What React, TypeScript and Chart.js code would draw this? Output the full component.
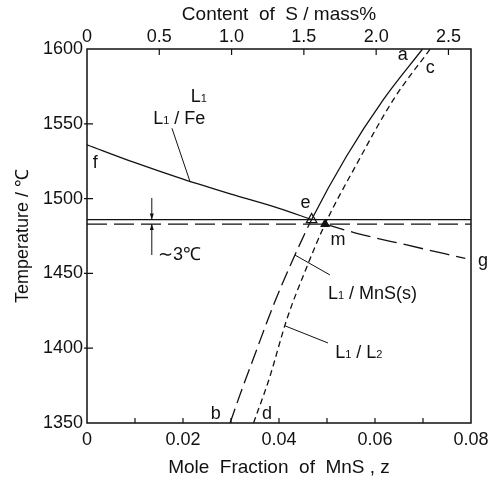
import React, { useEffect, useRef } from "react";
import { Chart, registerables } from "chart.js";
Chart.register(...registerables);

// ---- axis ticks ----
const zTicks = [0, 0.02, 0.04, 0.06, 0.08];
const zTickLabels = ["0", "0.02", "0.04", "0.06", "0.08"];
const zInnerTicks = [0.01, 0.02, 0.03, 0.04, 0.05, 0.06, 0.07];
const sTicks = [0, 0.5, 1.0, 1.5, 2.0, 2.5];
const sTickLabels = ["0", "0.5", "1.0", "1.5", "2.0", "2.5"];
const sInnerTicks = [0.5, 1.0, 1.5, 2.0, 2.5];
const sMax = 2.656;
const tTicks = [1350, 1400, 1450, 1500, 1550, 1600];
const tInnerTicks = [1400, 1450, 1500, 1550];

// ---- curves (z = mole fraction MnS, T = temperature) ----
const feLiqZ = [0, 0.01, 0.02, 0.03, 0.04, 0.0468];
const feLiqT = [1536, 1524, 1513, 1503, 1493.5, 1486];
// L1/MnS(s) liquidus: b -> e (metastable, dashed) -> a (stable, solid)
const mnsLiqZ = [0.0298, 0.032, 0.035, 0.039, 0.043, 0.0468, 0.054, 0.0617, 0.0699];
const mnsLiqT = [1350, 1370, 1396, 1430, 1460, 1486, 1528, 1566, 1600];
const l1l2Z = [0.0347, 0.038, 0.0416, 0.0455, 0.0496, 0.056, 0.0638, 0.0715];
const l1l2T = [1350, 1380, 1419, 1452, 1483, 1522, 1566, 1600];
const mgZ = [0.0496, 0.056, 0.0666, 0.0788];
const mgT = [1483, 1477, 1469, 1460];
const eutecticT = 1486;
const monotecticT = 1483;
const pointEZ = [0.0468];
const pointET = [1486];
const pointMZ = [0.0496];
const pointMT = [1483];

// ---- annotations ----
const labelTexts = ["a", "c", "b", "d", "e", "f", "g", "m", "L_1", "L_1 / Fe", "L_1 / MnS(s)", "L_1 / L_2", "∼3℃"];
const labelZ = [0.0658, 0.0715, 0.0268, 0.0375, 0.0455, 0.0017, 0.0825, 0.0523, 0.0233, 0.0138, 0.0502, 0.0517, 0.0148];
const labelT = [1597, 1588, 1357, 1357, 1498, 1525, 1459, 1473, 1569, 1554, 1437, 1398, 1463];
const labelAlign = ["center", "center", "center", "center", "center", "center", "center", "center", "center", "left", "left", "left", "left"];
const pointerFromZ = [0.0177, 0.0433, 0.0412];
const pointerFromT = [1547, 1462.3, 1415];
const pointerToZ = [0.0215, 0.0506, 0.0502];
const pointerToT = [1511, 1449, 1403.5];
const arrowZ = 0.0135;
const arrowTopT = 1500.4;
const arrowBottomT = 1462.3;

const FONT = "'Liberation Sans', Arial, Helvetica, sans-serif";
const INK = "#111";

const zip = (xs: number[], ys: number[]) => xs.map((x, i) => ({ x, y: ys[i] }));

function drawRich(ctx: CanvasRenderingContext2D, x: number, y: number, text: string, align: string, size: number) {
  const parts: { t: string; sub: boolean }[] = [];
  const re = /_(\w)/g;
  let last = 0;
  let m: RegExpExecArray | null;
  while ((m = re.exec(text))) {
    if (m.index > last) parts.push({ t: text.slice(last, m.index), sub: false });
    parts.push({ t: m[1], sub: true });
    last = m.index + m[0].length;
  }
  if (last < text.length) parts.push({ t: text.slice(last), sub: false });
  const bigFont = `${size}px ${FONT}`;
  const subFont = `${Math.round(size * 0.6)}px ${FONT}`;
  let total = 0;
  for (const p of parts) {
    ctx.font = p.sub ? subFont : bigFont;
    total += ctx.measureText(p.t).width;
  }
  let cx = align === "center" ? x - total / 2 : x;
  ctx.textAlign = "left";
  ctx.textBaseline = "alphabetic";
  const base = y + size * 0.36;
  for (const p of parts) {
    ctx.font = p.sub ? subFont : bigFont;
    ctx.fillText(p.t, cx, base);
    cx += ctx.measureText(p.t).width;
  }
}

const decorPlugin = {
  id: "decor",
  afterDraw(chart: any) {
    const { ctx, chartArea } = chart;
    const xs = chart.scales.x;
    const ys = chart.scales.y;
    const x2 = chart.scales.x2;
    ctx.save();
    ctx.strokeStyle = INK;
    ctx.fillStyle = INK;
    // frame
    ctx.lineWidth = 1.5;
    ctx.strokeRect(chartArea.left, chartArea.top, chartArea.right - chartArea.left, chartArea.bottom - chartArea.top);
    ctx.lineWidth = 1.2;
    ctx.beginPath();
    for (const v of zInnerTicks) {
      const px = xs.getPixelForValue(v);
      ctx.moveTo(px, chartArea.bottom);
      ctx.lineTo(px, chartArea.bottom - 5);
    }
    for (const v of sInnerTicks) {
      const px = x2.getPixelForValue(v);
      ctx.moveTo(px, chartArea.top);
      ctx.lineTo(px, chartArea.top + 6);
    }
    for (const v of tInnerTicks) {
      const py = ys.getPixelForValue(v);
      ctx.moveTo(chartArea.left - 3, py);
      ctx.lineTo(chartArea.left + 6, py);
    }
    ctx.stroke();
    // pointers
    ctx.lineWidth = 1;
    ctx.beginPath();
    for (let i = 0; i < pointerFromZ.length; i++) {
      ctx.moveTo(xs.getPixelForValue(pointerFromZ[i]), ys.getPixelForValue(pointerFromT[i]));
      ctx.lineTo(xs.getPixelForValue(pointerToZ[i]), ys.getPixelForValue(pointerToT[i]));
    }
    ctx.stroke();
    // ~3C arrows
    const ax = xs.getPixelForValue(arrowZ);
    const yTop = ys.getPixelForValue(arrowTopT);
    const yE = ys.getPixelForValue(eutecticT);
    const yM = ys.getPixelForValue(monotecticT);
    const yBot = ys.getPixelForValue(arrowBottomT);
    ctx.beginPath();
    ctx.moveTo(ax, yTop);
    ctx.lineTo(ax, yE);
    ctx.moveTo(ax, yBot);
    ctx.lineTo(ax, yM);
    ctx.stroke();
    ctx.beginPath();
    ctx.moveTo(ax, yE);
    ctx.lineTo(ax - 2, yE - 6);
    ctx.lineTo(ax + 2, yE - 6);
    ctx.closePath();
    ctx.moveTo(ax, yM);
    ctx.lineTo(ax - 2, yM + 6);
    ctx.lineTo(ax + 2, yM + 6);
    ctx.closePath();
    ctx.fill();
    // labels
    for (let i = 0; i < labelTexts.length; i++) {
      drawRich(ctx, xs.getPixelForValue(labelZ[i]), ys.getPixelForValue(labelT[i]), labelTexts[i], labelAlign[i], 18);
    }
    ctx.restore();
  },
};

export default function App() {
  const ref = useRef<HTMLCanvasElement | null>(null);
  useEffect(() => {
    if (!ref.current) return;
    const line = (data: any[], dash: number[], width = 1.3) => ({
      data,
      borderColor: INK,
      borderWidth: width,
      borderDash: dash,
      pointRadius: 0,
      tension: 0.4,
      cubicInterpolationMode: "monotone",
      fill: false,
    });
    const mnsLine: any = line(zip(mnsLiqZ, mnsLiqT), []);
    mnsLine.segment = {
      borderDash: (c: any) => (c.p1.parsed.y <= eutecticT ? [15, 6] : []),
    };
    const chart = new Chart(ref.current, {
      type: "line",
      data: {
        datasets: [
          line(zip(feLiqZ, feLiqT), []),
          mnsLine,
          line(zip(l1l2Z, l1l2T), [6, 4]),
          line(zip(mgZ, mgT), [20, 7]),
          line([{ x: 0, y: eutecticT }, { x: 0.08, y: eutecticT }], [], 1.2),
          line([{ x: 0, y: monotecticT }, { x: 0.08, y: monotecticT }], [20, 7], 1.2),
          {
            data: zip(pointEZ, pointET),
            showLine: false,
            pointStyle: "triangle",
            pointRadius: 6,
            pointBackgroundColor: "#fff",
            pointBorderColor: INK,
            pointBorderWidth: 1.3,
          },
          {
            data: zip(pointMZ, pointMT),
            showLine: false,
            pointStyle: "triangle",
            pointRadius: 5,
            pointBackgroundColor: INK,
            pointBorderColor: INK,
            pointBorderWidth: 1,
          },
        ] as any,
      },
      options: {
        animation: false,
        responsive: false,
        devicePixelRatio: 1,
        parsing: true,
        layout: { padding: { left: 0, top: 0, right: 24, bottom: 0 } },
        plugins: { legend: { display: false }, tooltip: { enabled: false } },
        events: [],
        scales: {
          x: {
            type: "linear",
            position: "bottom",
            min: 0,
            max: 0.08,
            grid: { display: false, drawTicks: false },
            border: { display: false },
            afterBuildTicks: (s: any) => {
              s.ticks = zTicks.map((v) => ({ value: v }));
            },
            afterFit: (s: any) => {
              s.height = 56;
            },
            ticks: {
              padding: 6,
              color: INK,
              font: { family: FONT, size: 18 },
              maxRotation: 0,
              autoSkip: false,
              callback: (_v: any, i: number) => zTickLabels[i],
            },
            title: {
              display: true,
              text: "Mole  Fraction  of  MnS , z",
              color: INK,
              font: { family: FONT, size: 19 },
              padding: { top: 0, bottom: 0 },
            },
          },
          x2: {
            type: "linear",
            position: "top",
            min: 0,
            max: sMax,
            grid: { display: false, drawTicks: false },
            border: { display: false },
            afterBuildTicks: (s: any) => {
              s.ticks = sTicks.map((v) => ({ value: v }));
            },
            afterFit: (s: any) => {
              s.height = 49;
            },
            ticks: {
              padding: 1,
              color: INK,
              font: { family: FONT, size: 18 },
              maxRotation: 0,
              autoSkip: false,
              callback: (_v: any, i: number) => sTickLabels[i],
            },
            title: {
              display: true,
              text: "Content  of  S / mass%",
              color: INK,
              font: { family: FONT, size: 19 },
              padding: { top: 3, bottom: 0 },
            },
          },
          y: {
            type: "linear",
            position: "left",
            min: 1350,
            max: 1600,
            grid: { display: false, drawTicks: false },
            border: { display: false },
            afterBuildTicks: (s: any) => {
              s.ticks = tTicks.map((v) => ({ value: v }));
            },
            afterFit: (s: any) => {
              s.width = 87;
            },
            ticks: {
              padding: 4,
              color: INK,
              font: { family: FONT, size: 18 },
              autoSkip: false,
              callback: (v: any) => String(v),
            },
            title: {
              display: true,
              text: "Temperature / ℃",
              color: INK,
              font: { family: FONT, size: 18 },
              padding: { top: 12, bottom: 0 },
            },
          },
        },
      } as any,
      plugins: [decorPlugin],
    });
    return () => chart.destroy();
  }, []);
  return (
    <div style={{ position: "absolute", left: 0, top: 0, width: 495, height: 479, background: "#fff" }}>
      <canvas ref={ref} width={495} height={479} />
    </div>
  );
}
